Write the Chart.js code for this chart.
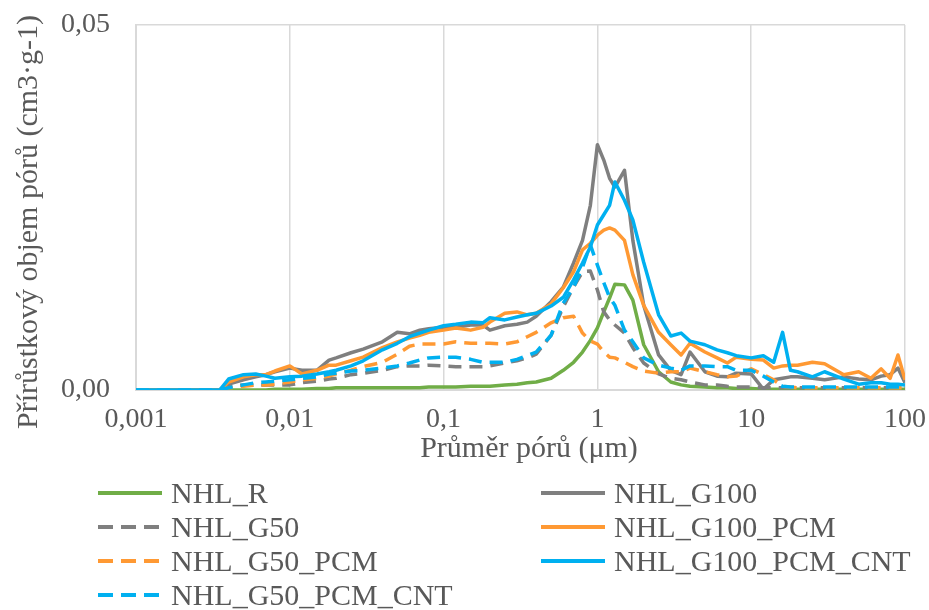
<!DOCTYPE html>
<html>
<head>
<meta charset="utf-8">
<title>Přírůstkový objem pórů</title>
<script src="https://cdn.jsdelivr.net/npm/chart.js"></script>
<style>
  body { margin: 0; background: #fff; }
  #wrap { position: relative; width: 929px; height: 610px; overflow: hidden; }
  .leg { position: absolute; height: 34px; line-height: 34px; font: 30px 'Liberation Serif', serif; color: #595959; white-space: nowrap; }
  .leg svg { position: absolute; left: 0; top: 15px; }
  .leg span { position: absolute; top: 0; }
</style>
</head>
<body>
<div id="wrap">
  <canvas id="myChart" width="929" height="610"></canvas>
  <div id="legend"></div>
</div>
<script>
// pore diameter (um), shared by all series
var diameters = [0.001, 0.0035, 0.004, 0.005, 0.006, 0.007, 0.008, 0.01, 0.012, 0.015,
  0.018, 0.02, 0.025, 0.03, 0.04, 0.05, 0.06, 0.07, 0.08, 0.1,
  0.12, 0.15, 0.18, 0.2, 0.25, 0.3, 0.35, 0.4, 0.5, 0.6,
  0.7, 0.8, 0.9, 1.0, 1.1, 1.2, 1.3, 1.5, 1.7, 2.0,
  2.5, 3, 3.5, 4, 5, 6, 7, 8, 10, 12,
  14, 16, 18, 20, 25, 30, 40, 50, 60, 70,
  80, 90, 100];

var nhlR = [0, 0, 0, 0, 0, 0, 0.0001, 0.0001, 0.0001, 0.0002,
  0.0002, 0.0003, 0.0003, 0.0003, 0.0003, 0.0003, 0.0003, 0.0003, 0.0004, 0.0004,
  0.0004, 0.0005, 0.0005, 0.0005, 0.0007, 0.0008, 0.0010, 0.0011, 0.0016, 0.0027,
  0.0038, 0.0052, 0.0068, 0.0085, 0.0107, 0.0126, 0.0145, 0.0144, 0.0123, 0.0062,
  0.0025, 0.0011, 0.0007, 0.0005, 0.0004, 0.0003, 0.0003, 0.0002, 0.0002, 0.0001,
  0.0001, 0.0001, 0.0001, 0.0001, 0.0001, 0.0001, 0.0001, 0.0001, 0.0001, 0.0001,
  0.0001, 0.0001, 0.0001];

var nhlG100 = [0, 0, 0.0008, 0.0014, 0.0018, 0.0021, 0.0025, 0.0030, 0.0027, 0.0027,
  0.0041, 0.0044, 0.0051, 0.0056, 0.0066, 0.0079, 0.0077, 0.0082, 0.0084, 0.0086,
  0.0086, 0.0089, 0.0089, 0.0082, 0.0088, 0.0090, 0.0093, 0.0101, 0.0121, 0.0141,
  0.0174, 0.0205, 0.0253, 0.0336, 0.0315, 0.0290, 0.0278, 0.0301, 0.0205, 0.0116,
  0.0048, 0.0027, 0.0021, 0.0052, 0.0025, 0.0019, 0.0018, 0.0023, 0.0022, 0.0001,
  0.0014, 0.0016, 0.0018, 0.0018, 0.0016, 0.0014, 0.0018, 0.0015, 0.0014, 0.0019,
  0.0021, 0.0030, 0.0010];

var nhlG50 = [0, 0, 0.0005, 0.0007, 0.0007, 0.0007, 0.0007, 0.0007, 0.0010, 0.0012,
  0.0015, 0.0016, 0.0021, 0.0023, 0.0027, 0.0032, 0.0033, 0.0033, 0.0034, 0.0033,
  0.0032, 0.0032, 0.0032, 0.0033, 0.0037, 0.0040, 0.0044, 0.0049, 0.0075, 0.0114,
  0.0141, 0.0162, 0.0163, 0.0137, 0.0107, 0.0096, 0.0089, 0.0078, 0.0058, 0.0037,
  0.0022, 0.0016, 0.0014, 0.0011, 0.0007, 0.0007, 0.0005, 0.0004, 0.0004, 0.0003,
  0.0003, 0.0003, 0.0003, 0.0003, 0.0003, 0.0003, 0.0003, 0.0003, 0.0003, 0.0003,
  0.0003, 0.0003, 0.0003];

var nhlG100Pcm = [0, 0, 0.0011, 0.0018, 0.0021, 0.0021, 0.0026, 0.0033, 0.0022, 0.0027,
  0.0034, 0.0034, 0.0040, 0.0045, 0.0058, 0.0066, 0.0071, 0.0075, 0.0079, 0.0082,
  0.0085, 0.0082, 0.0086, 0.0093, 0.0105, 0.0107, 0.0103, 0.0105, 0.0118, 0.0140,
  0.0162, 0.0192, 0.0201, 0.0212, 0.0219, 0.0222, 0.0219, 0.0205, 0.0158, 0.0116,
  0.0079, 0.0062, 0.0048, 0.0064, 0.0052, 0.0044, 0.0037, 0.0045, 0.0042, 0.0041,
  0.0030, 0.0033, 0.0034, 0.0034, 0.0038, 0.0036, 0.0021, 0.0025, 0.0016, 0.0029,
  0.0016, 0.0048, 0.0014];

var nhlG50Pcm = [0, 0, 0.0003, 0.0005, 0.0007, 0.0007, 0.0008, 0.0011, 0.0014, 0.0016,
  0.0019, 0.0022, 0.0027, 0.0032, 0.0038, 0.0049, 0.0060, 0.0063, 0.0063, 0.0063,
  0.0066, 0.0064, 0.0064, 0.0064, 0.0063, 0.0066, 0.0073, 0.0079, 0.0092, 0.0099,
  0.0101, 0.0078, 0.0067, 0.0063, 0.0052, 0.0045, 0.0044, 0.0038, 0.0032, 0.0026,
  0.0023, 0.0025, 0.0025, 0.0030, 0.0025, 0.0021, 0.0018, 0.0019, 0.0029, 0.0021,
  0.0014, 0.0005, 0.0004, 0.0003, 0.0003, 0.0003, 0.0003, 0.0003, 0.0003, 0.0003,
  0.0003, 0.0003, 0.0003];

var nhlG100PcmCnt = [0, 0, 0.0015, 0.0021, 0.0022, 0.0019, 0.0016, 0.0018, 0.0019, 0.0022,
  0.0025, 0.0027, 0.0033, 0.0040, 0.0055, 0.0064, 0.0073, 0.0078, 0.0082, 0.0088,
  0.0090, 0.0093, 0.0092, 0.0099, 0.0096, 0.0100, 0.0103, 0.0105, 0.0115, 0.0127,
  0.0151, 0.0174, 0.0196, 0.0226, 0.0240, 0.0253, 0.0285, 0.0260, 0.0233, 0.0175,
  0.0103, 0.0074, 0.0078, 0.0067, 0.0062, 0.0055, 0.0051, 0.0047, 0.0044, 0.0047,
  0.0038, 0.0079, 0.0027, 0.0025, 0.0018, 0.0025, 0.0015, 0.0008, 0.0010, 0.0010,
  0.0008, 0.0008, 0.0007];

var nhlG50PcmCnt = [0, 0, 0.0003, 0.0007, 0.0010, 0.0011, 0.0012, 0.0014, 0.0016, 0.0018,
  0.0022, 0.0023, 0.0026, 0.0027, 0.0030, 0.0033, 0.0037, 0.0041, 0.0044, 0.0045,
  0.0045, 0.0042, 0.0038, 0.0038, 0.0038, 0.0042, 0.0047, 0.0052, 0.0075, 0.0119,
  0.0141, 0.0168, 0.0199, 0.0171, 0.0147, 0.0127, 0.0116, 0.0082, 0.0066, 0.0044,
  0.0034, 0.0030, 0.0027, 0.0033, 0.0033, 0.0032, 0.0032, 0.0027, 0.0027, 0.0019,
  0.0011, 0.0005, 0.0004, 0.0004, 0.0004, 0.0004, 0.0004, 0.0004, 0.0004, 0.0004,
  0.0004, 0.0004, 0.0004];

var seriesNames = ['NHL_R', 'NHL_G100', 'NHL_G50', 'NHL_G100_PCM', 'NHL_G50_PCM', 'NHL_G100_PCM_CNT', 'NHL_G50_PCM_CNT'];
var seriesValues = [nhlR, nhlG100, nhlG50, nhlG100Pcm, nhlG50Pcm, nhlG100PcmCnt, nhlG50PcmCnt];
var seriesColors = ['#70AD47', '#7F7F7F', '#7F7F7F', '#FF9933', '#FF9933', '#00B0F0', '#00B0F0'];
var seriesDashed = [false, false, true, false, true, false, true];

var xTickValues = [0.001, 0.01, 0.1, 1, 10, 100];
var xTickLabels = ['0,001', '0,01', '0,1', '1', '10', '100'];
var yTickValues = [0, 0.05];
var yTickLabels = ['0,00', '0,05'];
var xTitle = 'Průměr pórů (μm)';
var yTitle = 'Přírůstkový objem pórů (cm3·g-1)';

var textColor = '#595959';
var gridColor = '#D9D9D9';
var fontFamily = "'Liberation Serif', 'Times New Roman', serif";

// axis titles drawn at the spots they sit in the original
var axisTitles = {
  id: 'axisTitles',
  afterDraw: function(chart) {
    var ctx = chart.ctx;
    ctx.save();
    ctx.fillStyle = textColor;
    ctx.font = '30px ' + fontFamily;
    ctx.textAlign = 'center';
    ctx.textBaseline = 'alphabetic';
    ctx.fillText(xTitle, 529, 457);
    ctx.translate(37, 222);
    ctx.rotate(-Math.PI / 2);
    ctx.fillText(yTitle, 0, 0);
    ctx.restore();
  }
};

var datasets = seriesNames.map(function(name, i) {
  return {
    label: name,
    data: diameters.map(function(d, j) { return { x: d, y: seriesValues[i][j] }; }),
    borderColor: seriesColors[i],
    backgroundColor: seriesColors[i],
    borderWidth: 3.5,
    borderDash: seriesDashed[i] ? [13, 8] : [],
    borderJoinStyle: 'round',
    pointRadius: 0,
    tension: 0,
    fill: false,
    order: seriesNames.length - i
  };
});

var ctx = document.getElementById('myChart').getContext('2d');
var myChart = new Chart(ctx, {
  type: 'line',
  data: { datasets: datasets },
  options: {
    responsive: false,
    animation: false,
    layout: { padding: { top: 25, right: 24, left: 0, bottom: 140 } },
    plugins: { legend: { display: false }, tooltip: { enabled: false } },
    scales: {
      x: {
        type: 'logarithmic',
        min: 0.001,
        max: 100,
        afterBuildTicks: function(s) { s.ticks = xTickValues.map(function(v) { return { value: v, major: true }; }); },
        afterFit: function(s) { s.height = 80; s.paddingLeft = 0; s.paddingRight = 0; },
        ticks: {
          autoSkip: false,
          maxRotation: 0,
          padding: 13,
          color: textColor,
          font: { family: fontFamily, size: 28 },
          callback: function(v, i) { return xTickLabels[i]; }
        },
        grid: { color: gridColor, lineWidth: 1.5, drawTicks: false },
        border: { display: true, color: gridColor, width: 2 }
      },
      y: {
        min: 0,
        max: 0.05,
        afterBuildTicks: function(s) { s.ticks = yTickValues.map(function(v) { return { value: v }; }); },
        afterFit: function(s) { s.width = 136; s.paddingTop = 0; s.paddingBottom = 0; },
        ticks: {
          padding: 26,
          color: textColor,
          font: { family: fontFamily, size: 28 },
          callback: function(v, i) { return yTickLabels[i]; }
        },
        grid: { color: gridColor, lineWidth: 1.5, drawTicks: false },
        border: { display: true, color: gridColor, width: 2 }
      }
    }
  },
  plugins: [axisTitles]
});

// two-column legend under the plot, same order as the series
var legend = document.getElementById('legend');
var colLeft = [98, 541];
var rowTop = [476, 510, 544, 578];
seriesNames.forEach(function(name, i) {
  var item = document.createElement('div');
  item.className = 'leg';
  item.style.left = colLeft[i % 2] + 'px';
  item.style.top = rowTop[Math.floor(i / 2)] + 'px';
  var dash = seriesDashed[i] ? " stroke-dasharray='15 8'" : '';
  item.innerHTML = "<svg width='64' height='4'><line x1='0' y1='2' x2='64' y2='2' stroke='" + seriesColors[i] +
    "' stroke-width='4'" + dash + "/></svg><span style='left:73px'>" + name + "</span>";
  legend.appendChild(item);
});
</script>
</body>
</html>
